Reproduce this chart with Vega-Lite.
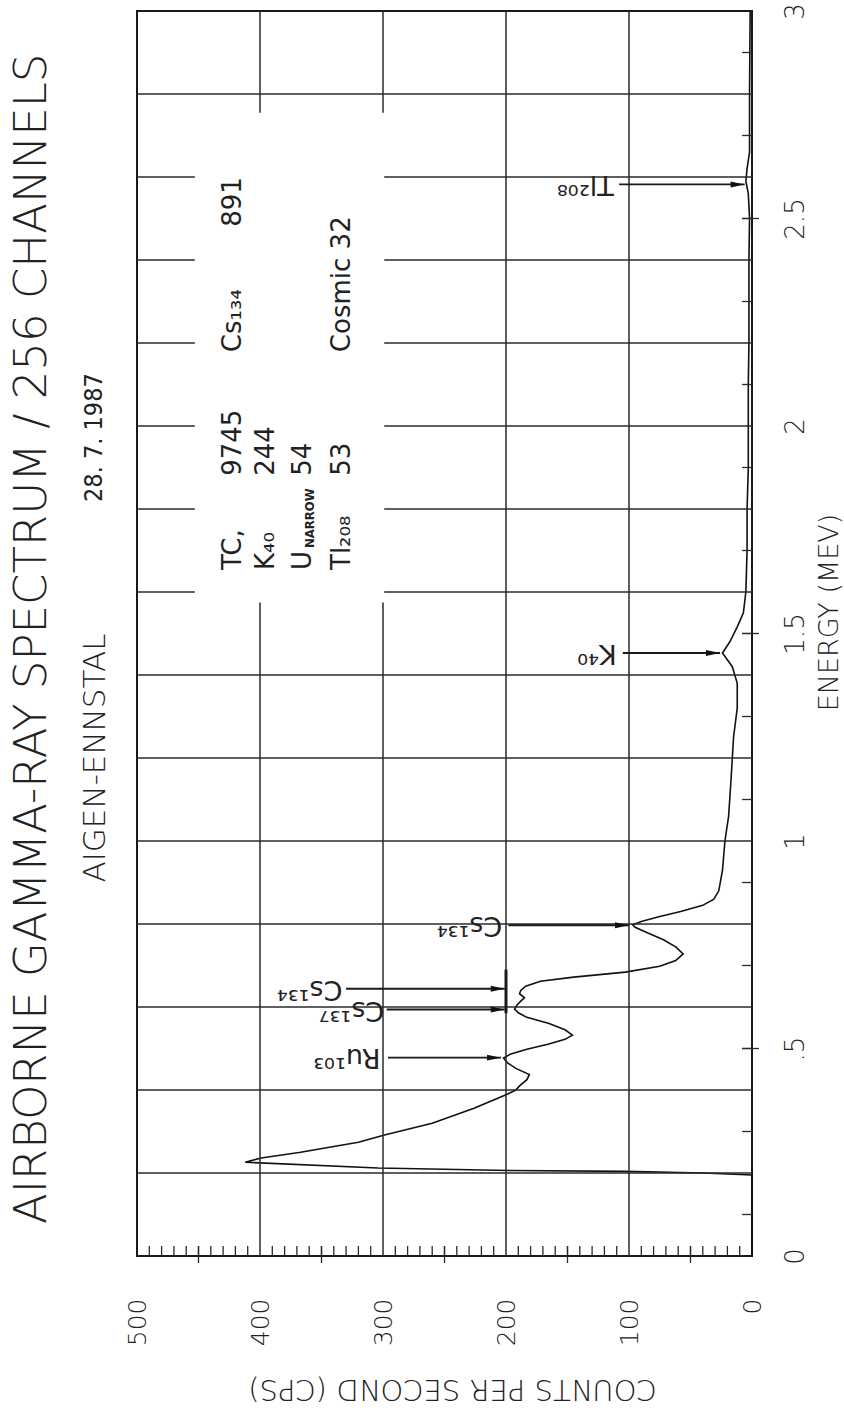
{
  "$schema": "https://vega.github.io/schema/vega-lite/v6.json",
  "width": 615,
  "height": 1245,
  "autosize": {"type": "none"},
  "padding": {"left": 137, "top": 11, "right": 92, "bottom": 152},
  "background": "white",
  "config": {
    "font": "DejaVu Sans",
    "view": {"stroke": "#1a1a1a", "strokeWidth": 2},
    "text": {"color": "#222"}
  },
  "datasets": {
    "curve": [
      {"energy": 0, "count": 0}, {"energy": 0.195, "count": 0}, {"energy": 0.2, "count": 40},
      {"energy": 0.204, "count": 103}, {"energy": 0.206, "count": 197}, {"energy": 0.212, "count": 304},
      {"energy": 0.226, "count": 412}, {"energy": 0.236, "count": 399}, {"energy": 0.25, "count": 367},
      {"energy": 0.274, "count": 320}, {"energy": 0.292, "count": 298}, {"energy": 0.32, "count": 260},
      {"energy": 0.356, "count": 226}, {"energy": 0.39, "count": 199}, {"energy": 0.4, "count": 192},
      {"energy": 0.41, "count": 189}, {"energy": 0.425, "count": 183}, {"energy": 0.437, "count": 181},
      {"energy": 0.452, "count": 192}, {"energy": 0.466, "count": 199}, {"energy": 0.477, "count": 202},
      {"energy": 0.487, "count": 196}, {"energy": 0.498, "count": 183}, {"energy": 0.51, "count": 166},
      {"energy": 0.522, "count": 152}, {"energy": 0.532, "count": 146}, {"energy": 0.545, "count": 152},
      {"energy": 0.56, "count": 165}, {"energy": 0.575, "count": 183}, {"energy": 0.586, "count": 190},
      {"energy": 0.595, "count": 193}, {"energy": 0.605, "count": 191}, {"energy": 0.614, "count": 188},
      {"energy": 0.622, "count": 185}, {"energy": 0.632, "count": 189}, {"energy": 0.64, "count": 188},
      {"energy": 0.65, "count": 184}, {"energy": 0.662, "count": 172}, {"energy": 0.672, "count": 145},
      {"energy": 0.684, "count": 103}, {"energy": 0.698, "count": 75}, {"energy": 0.712, "count": 62},
      {"energy": 0.728, "count": 56}, {"energy": 0.745, "count": 62}, {"energy": 0.762, "count": 72},
      {"energy": 0.78, "count": 86}, {"energy": 0.792, "count": 95}, {"energy": 0.798, "count": 97},
      {"energy": 0.806, "count": 90}, {"energy": 0.818, "count": 75}, {"energy": 0.83, "count": 58},
      {"energy": 0.845, "count": 40}, {"energy": 0.86, "count": 31}, {"energy": 0.88, "count": 27},
      {"energy": 0.93, "count": 24}, {"energy": 1.0, "count": 22}, {"energy": 1.06, "count": 19},
      {"energy": 1.15, "count": 17}, {"energy": 1.25, "count": 15}, {"energy": 1.32, "count": 12},
      {"energy": 1.38, "count": 12}, {"energy": 1.42, "count": 16}, {"energy": 1.453, "count": 24},
      {"energy": 1.48, "count": 18}, {"energy": 1.516, "count": 12}, {"energy": 1.55, "count": 7},
      {"energy": 1.6, "count": 5}, {"energy": 1.7, "count": 4}, {"energy": 1.8, "count": 4},
      {"energy": 1.9, "count": 3}, {"energy": 2.0, "count": 3}, {"energy": 2.1, "count": 3},
      {"energy": 2.2, "count": 2.5}, {"energy": 2.3, "count": 2.5}, {"energy": 2.4, "count": 2.5},
      {"energy": 2.5, "count": 2}, {"energy": 2.56, "count": 3}, {"energy": 2.59, "count": 5},
      {"energy": 2.62, "count": 4}, {"energy": 2.66, "count": 2}, {"energy": 2.8, "count": 2},
      {"energy": 3.0, "count": 1.5}
    ],
    "egrid": [
      {"energy": 0.2}, {"energy": 0.4}, {"energy": 0.6}, {"energy": 0.8}, {"energy": 1.0},
      {"energy": 1.2}, {"energy": 1.4}, {"energy": 1.6}, {"energy": 1.8}, {"energy": 2.0},
      {"energy": 2.2}, {"energy": 2.4}, {"energy": 2.6}, {"energy": 2.8}
    ],
    "cgrid": [{"count": 100}, {"count": 200}, {"count": 300}, {"count": 400}],
    "cticks": [
      {"count": 10}, {"count": 20}, {"count": 30}, {"count": 40}, {"count": 50}, {"count": 60}, {"count": 70}, {"count": 80}, {"count": 90},
      {"count": 110}, {"count": 120}, {"count": 130}, {"count": 140}, {"count": 150}, {"count": 160}, {"count": 170}, {"count": 180}, {"count": 190},
      {"count": 210}, {"count": 220}, {"count": 230}, {"count": 240}, {"count": 250}, {"count": 260}, {"count": 270}, {"count": 280}, {"count": 290},
      {"count": 310}, {"count": 320}, {"count": 330}, {"count": 340}, {"count": 350}, {"count": 360}, {"count": 370}, {"count": 380}, {"count": 390},
      {"count": 410}, {"count": 420}, {"count": 430}, {"count": 440}, {"count": 450}, {"count": 460}, {"count": 470}, {"count": 480}, {"count": 490}
    ],
    "cmajor": [{"count": 50}, {"count": 150}, {"count": 250}, {"count": 350}, {"count": 450}],
    "eticks": [
      {"energy": 0.1}, {"energy": 0.3}, {"energy": 0.5}, {"energy": 0.7}, {"energy": 0.9},
      {"energy": 1.1}, {"energy": 1.3}, {"energy": 1.5}, {"energy": 1.7}, {"energy": 1.9},
      {"energy": 2.1}, {"energy": 2.3}, {"energy": 2.5}, {"energy": 2.7}, {"energy": 2.9}
    ],
    "emajor": [{"energy": 0.5}, {"energy": 1.5}, {"energy": 2.5}],
    "box": [{"count": 453, "count2": 299, "energy": 1.575, "energy2": 2.755}],
    "bar200": [{"count": 200, "energy": 0.585, "energy2": 0.69}],
    "arrows": [
      {"energy": 0.478, "count": 296, "count2": 204},
      {"energy": 0.594, "count": 297, "count2": 201},
      {"energy": 0.644, "count": 330, "count2": 201},
      {"energy": 0.797, "count": 198, "count2": 100},
      {"energy": 1.453, "count": 105, "count2": 26},
      {"energy": 2.582, "count": 108, "count2": 6}
    ],
    "peaks": [
      {"label": "Ru¹⁰³", "count": 302, "energy": 0.479},
      {"label": "Cs¹³⁷", "count": 299, "energy": 0.592},
      {"label": "Cs¹³⁴", "count": 333, "energy": 0.643},
      {"label": "Cs¹³⁴", "count": 203, "energy": 0.797},
      {"label": "K⁴⁰", "count": 110, "energy": 1.453},
      {"label": "Tl²⁰⁸", "count": 112.5, "energy": 2.583}
    ],
    "legend": [
      {"label": "TC,", "count": 422, "energy": 1.653},
      {"label": "9745", "count": 422, "energy": 1.88},
      {"label": "Cs₁₃₄", "count": 422, "energy": 2.178},
      {"label": "891", "count": 422, "energy": 2.48},
      {"label": "K₄₀", "count": 395, "energy": 1.653},
      {"label": "244", "count": 395, "energy": 1.88},
      {"label": "U", "count": 365, "energy": 1.653},
      {"label": "54", "count": 365, "energy": 1.88},
      {"label": "Tl₂₀₈", "count": 333, "energy": 1.653},
      {"label": "53", "count": 333, "energy": 1.88},
      {"label": "Cosmic 32", "count": 333, "energy": 2.178}
    ],
    "legendSmall": [{"label": "NARROW", "count": 359, "energy": 1.706}],
    "heading": [{"label": "AIRBORNE GAMMA-RAY SPECTRUM / 256 CHANNELS", "count": 585, "energy": 1.487}],
    "site": [{"label": "AIGEN-ENNSTAL", "count": 533, "energy": 0.9}],
    "date": [{"label": "28. 7. 1987", "count": 535, "energy": 1.817}]
  },
  "layer": [
    {
      "data": {"name": "curve"},
      "mark": {"type": "line", "color": "#111", "strokeWidth": 1.6, "clip": false},
      "encoding": {
        "x": {
          "field": "count", "type": "quantitative",
          "scale": {"domain": [0, 500], "reverse": true, "nice": false, "zero": false},
          "axis": {
            "values": [0, 100, 200, 300, 400, 500],
            "labelAngle": -90, "labelAlign": "right", "labelBaseline": "middle",
            "labelPadding": 42, "labelFontSize": 25, "labelColor": "#222", "labelFontWeight": 300,
            "labelFlush": false, "labelOverlap": false,
            "ticks": false, "domain": false, "grid": false,
            "title": "COUNTS PER SECOND (CPS)", "titleAngle": 180, "titleX": 315, "titleY": 132,
            "titleAlign": "center", "titleBaseline": "middle", "titleFontSize": 29,
            "titleFontWeight": 300, "titleColor": "#222"
          }
        },
        "y": {
          "field": "energy", "type": "quantitative",
          "scale": {"domain": [0, 3], "nice": false, "zero": false},
          "axis": {
            "orient": "right",
            "values": [0, 0.5, 1, 1.5, 2, 2.5, 3],
            "labelExpr": "datum.value == 0.5 ? '.5' : '' + datum.value",
            "labelAngle": -90, "labelAlign": "center", "labelBaseline": "middle",
            "labelPadding": 43, "labelFontSize": 26, "labelColor": "#222", "labelFontWeight": 300,
            "labelFlush": false, "labelOverlap": false,
            "ticks": false, "domain": false, "grid": false,
            "title": "ENERGY (MEV)", "titleAngle": -90, "titleX": 77, "titleY": 601,
            "titleAlign": "center", "titleBaseline": "middle", "titleFontSize": 27,
            "titleFontWeight": 300, "titleColor": "#222"
          }
        },
        "order": {"field": "energy", "type": "quantitative"}
      }
    },
    {
      "data": {"name": "egrid"},
      "mark": {"type": "rule", "color": "#2a2a2a", "strokeWidth": 1.5},
      "encoding": {"y": {"field": "energy", "type": "quantitative"}}
    },
    {
      "data": {"name": "cgrid"},
      "mark": {"type": "rule", "color": "#2a2a2a", "strokeWidth": 1.5},
      "encoding": {"x": {"field": "count", "type": "quantitative"}}
    },
    {
      "data": {"name": "box"},
      "mark": {"type": "rect", "color": "white", "opacity": 1},
      "encoding": {
        "x": {"field": "count", "type": "quantitative"},
        "x2": {"field": "count2"},
        "y": {"field": "energy", "type": "quantitative"},
        "y2": {"field": "energy2"}
      }
    },
    {
      "data": {"name": "cticks"},
      "mark": {"type": "rule", "color": "#2a2a2a", "strokeWidth": 1.3},
      "encoding": {
        "x": {"field": "count", "type": "quantitative"},
        "y": {"datum": 0, "type": "quantitative"},
        "y2": {"datum": 0.024}
      }
    },
    {
      "data": {"name": "cmajor"},
      "mark": {"type": "rule", "color": "#2a2a2a", "strokeWidth": 1.3, "clip": false},
      "encoding": {
        "x": {"field": "count", "type": "quantitative"},
        "y": {"datum": -0.017, "type": "quantitative"},
        "y2": {"datum": 0.024}
      }
    },
    {
      "data": {"name": "eticks"},
      "mark": {"type": "rule", "color": "#2a2a2a", "strokeWidth": 1.3},
      "encoding": {
        "y": {"field": "energy", "type": "quantitative"},
        "x": {"datum": 0, "type": "quantitative"},
        "x2": {"datum": 8.1}
      }
    },
    {
      "data": {"name": "emajor"},
      "mark": {"type": "rule", "color": "#2a2a2a", "strokeWidth": 1.3, "clip": false},
      "encoding": {
        "y": {"field": "energy", "type": "quantitative"},
        "x": {"datum": -5.7, "type": "quantitative"},
        "x2": {"datum": 8.1}
      }
    },
    {
      "data": {"name": "bar200"},
      "mark": {"type": "rule", "color": "#1a1a1a", "strokeWidth": 3},
      "encoding": {
        "x": {"field": "count", "type": "quantitative"},
        "y": {"field": "energy", "type": "quantitative"},
        "y2": {"field": "energy2"}
      }
    },
    {
      "data": {"name": "arrows"},
      "mark": {"type": "rule", "color": "#1a1a1a", "strokeWidth": 1.8},
      "encoding": {
        "x": {"field": "count", "type": "quantitative"},
        "x2": {"field": "count2"},
        "y": {"field": "energy", "type": "quantitative"}
      }
    },
    {
      "data": {"name": "arrows"},
      "mark": {"type": "point", "shape": "M0,0 L-2,-0.42 L-2,0.42 Z", "filled": true, "size": 196, "color": "#111", "opacity": 1, "strokeWidth": 0},
      "encoding": {
        "x": {"field": "count2", "type": "quantitative"},
        "y": {"field": "energy", "type": "quantitative"}
      }
    },
    {
      "data": {"name": "peaks"},
      "mark": {"type": "text", "angle": 180, "align": "left", "baseline": "middle", "fontSize": 27, "font": "DejaVu Sans", "fontWeight": "normal", "color": "#222"},
      "encoding": {
        "x": {"field": "count", "type": "quantitative"},
        "y": {"field": "energy", "type": "quantitative"},
        "text": {"field": "label"}
      }
    },
    {
      "data": {"name": "legend"},
      "mark": {"type": "text", "angle": -90, "align": "left", "baseline": "middle", "fontSize": 26, "font": "DejaVu Sans", "fontWeight": "normal", "color": "#222"},
      "encoding": {
        "x": {"field": "count", "type": "quantitative"},
        "y": {"field": "energy", "type": "quantitative"},
        "text": {"field": "label"}
      }
    },
    {
      "data": {"name": "legendSmall"},
      "mark": {"type": "text", "angle": -90, "align": "left", "baseline": "middle", "fontSize": 13, "fontWeight": "bold", "font": "DejaVu Sans Condensed", "color": "#222"},
      "encoding": {
        "x": {"field": "count", "type": "quantitative"},
        "y": {"field": "energy", "type": "quantitative"},
        "text": {"field": "label"}
      }
    },
    {
      "data": {"name": "heading"},
      "mark": {"type": "text", "angle": -90, "align": "center", "baseline": "middle", "fontSize": 45, "font": "DejaVu Sans", "fontWeight": 200, "color": "#222"},
      "encoding": {
        "x": {"field": "count", "type": "quantitative"},
        "y": {"field": "energy", "type": "quantitative"},
        "text": {"field": "label"}
      }
    },
    {
      "data": {"name": "site"},
      "mark": {"type": "text", "angle": -90, "align": "left", "baseline": "middle", "fontSize": 31, "font": "DejaVu Sans", "fontWeight": 300, "color": "#222"},
      "encoding": {
        "x": {"field": "count", "type": "quantitative"},
        "y": {"field": "energy", "type": "quantitative"},
        "text": {"field": "label"}
      }
    },
    {
      "data": {"name": "date"},
      "mark": {"type": "text", "angle": -90, "align": "left", "baseline": "middle", "fontSize": 25, "font": "DejaVu Sans Condensed", "fontWeight": "normal", "color": "#222"},
      "encoding": {
        "x": {"field": "count", "type": "quantitative"},
        "y": {"field": "energy", "type": "quantitative"},
        "text": {"field": "label"}
      }
    }
  ]
}
